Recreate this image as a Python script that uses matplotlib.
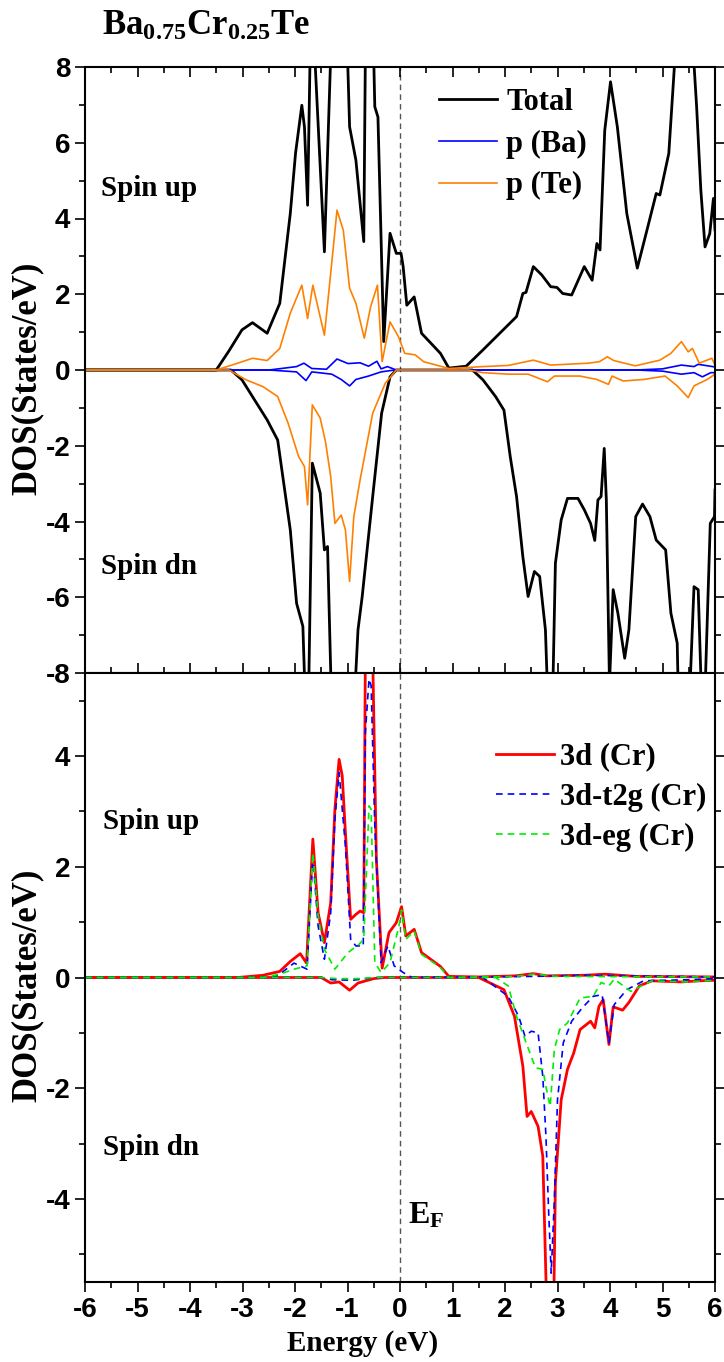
"""
Spin-resolved density of states for Ba0.75Cr0.25Te.

Top panel: total DOS with Ba-p and Te-p partial DOS.
Bottom panel: Cr-3d DOS split into t2g and eg parts.
Positive values are spin up, negative values spin down.
"""

import matplotlib
matplotlib.use('Agg')
import matplotlib.pyplot as plt
from matplotlib.ticker import MultipleLocator

SERIF = 'Liberation Serif'
SANS = 'Liberation Sans'

plt.rcParams['mathtext.fontset'] = 'custom'
plt.rcParams['mathtext.rm'] = SERIF + ':bold'
plt.rcParams['mathtext.it'] = SERIF + ':bold'
plt.rcParams['mathtext.bf'] = SERIF + ':bold'
plt.rcParams['axes.unicode_minus'] = False

# (energy in eV, DOS in states/eV)
TOTAL_UP = [(-6, 0), (-3.5, 0), (-3.26, 0.5), (-3.01, 1.06), (-2.81, 1.25),
            (-2.53, 0.97), (-2.29, 1.76), (-2.09, 4.13), (-1.99, 5.72),
            (-1.87, 6.99), (-1.82, 6.42), (-1.76, 4.35), (-1.71, 8.5),
            (-1.67, 10), (-1.62, 8.2), (-1.44, 3.12), (-1.32, 8.3),
            (-1.2, 10), (-1.0, 8.3), (-0.96, 6.42), (-0.84, 5.54),
            (-0.69, 3.39), (-0.66, 8.3), (-0.58, 10), (-0.50, 8.2),
            (-0.48, 6.95), (-0.42, 6.68), (-0.31, 0.75), (-0.19, 3.61),
            (-0.07, 3.08), (0.02, 3.08), (0.06, 2.73), (0.13, 1.71),
            (0.27, 1.93), (0.41, 0.97), (0.77, 0.44), (0.93, 0.05),
            (1.26, 0.10), (1.58, 0.53), (1.90, 0.97), (2.22, 1.41),
            (2.34, 2.02), (2.40, 2.05), (2.54, 2.73), (2.70, 2.51),
            (2.87, 2.20), (2.99, 2.18), (3.10, 2.02), (3.27, 1.98),
            (3.51, 2.73), (3.66, 2.37), (3.75, 3.34), (3.81, 3.17),
            (3.90, 6.33), (4.01, 7.61), (4.14, 6.42), (4.32, 4.13),
            (4.52, 2.69), (4.72, 3.78), (4.88, 4.66), (4.95, 4.62),
            (5.12, 5.72), (5.24, 8.3), (5.42, 10), (5.59, 8.3),
            (5.65, 6.95), (5.73, 4.75), (5.81, 3.25), (5.90, 3.6),
            (5.97, 4.53), (6.0, 3.7)]

TOTAL_DN = [(-6, 0), (-3.22, 0), (-3.01, -0.26), (-2.77, -0.79),
            (-2.53, -1.32), (-2.33, -1.85), (-2.25, -2.64), (-2.09, -4.22),
            (-1.97, -6.16), (-1.85, -6.77), (-1.81, -8.5), (-1.78, -9),
            (-1.74, -8.5), (-1.67, -2.46), (-1.52, -3.25), (-1.44, -4.75),
            (-1.38, -4.66), (-1.31, -8.5), (-1.1, -10), (-0.86, -8.5),
            (-0.80, -6.86), (-0.72, -5.98), (-0.52, -3.34), (-0.35, -1.14),
            (-0.19, -0.18), (-0.07, 0), (1.38, 0), (1.58, -0.26),
            (1.82, -0.70), (1.98, -1.06), (2.10, -2.29), (2.22, -3.34),
            (2.34, -4.93), (2.44, -5.98), (2.56, -5.32), (2.66, -5.45),
            (2.77, -6.86), (2.81, -8.5), (2.86, -9), (2.91, -8.5),
            (2.96, -5.10), (3.07, -3.96), (3.19, -3.39), (3.39, -3.39),
            (3.51, -3.69), (3.63, -4.05), (3.71, -4.50), (3.77, -3.43),
            (3.83, -3.34), (3.89, -2.07), (3.93, -3.43), (3.99, -8.3),
            (4.06, -5.80), (4.15, -6.42), (4.28, -7.61), (4.36, -6.86),
            (4.49, -3.87), (4.62, -3.54), (4.76, -3.87), (4.88, -4.49),
            (5.06, -4.75), (5.16, -6.42), (5.28, -7.21), (5.30, -8.5),
            (5.4, -9), (5.52, -8.5), (5.60, -5.72), (5.68, -5.80),
            (5.74, -8.5), (5.78, -9), (5.81, -8.5), (5.91, -4.05),
            (5.99, -3.87), (6.0, -3.17)]

BA_P_UP = [(-6, 0), (-2.49, 0), (-1.97, 0.09), (-1.83, 0.18), (-1.68, 0.04),
           (-1.4, 0.02), (-1.20, 0.29), (-0.99, 0.17), (-0.76, 0.19),
           (-0.60, 0.10), (-0.44, 0.23), (-0.36, 0.03), (-0.24, 0.09),
           (-0.07, 0), (4.5, 0), (5.0, 0.03), (5.36, 0.13), (5.60, 0.09),
           (5.68, 0.15), (6.0, 0.08)]

BA_P_DN = [(-6, 0), (-2.49, 0), (-1.97, -0.05), (-1.79, -0.28),
           (-1.68, -0.05), (-1.30, -0.11), (-1.12, -0.25), (-0.96, -0.42),
           (-0.84, -0.25), (-0.60, -0.16), (-0.36, -0.05), (-0.1, 0),
           (4.5, 0), (5.0, -0.03), (5.36, -0.11), (5.60, -0.07),
           (5.76, -0.18), (5.92, -0.07), (6.0, -0.07)]

TE_P_UP = [(-6, 0), (-3.5, 0), (-3.09, 0.18), (-2.81, 0.31), (-2.53, 0.25),
           (-2.29, 0.57), (-2.09, 1.50), (-1.87, 2.24), (-1.76, 1.36),
           (-1.66, 2.24), (-1.44, 0.92), (-1.32, 2.55), (-1.20, 4.22),
           (-1.08, 3.69), (-0.96, 2.16), (-0.84, 1.76), (-0.68, 0.84),
           (-0.56, 1.67), (-0.48, 2.02), (-0.43, 2.24), (-0.34, 0.22),
           (-0.19, 1.27), (-0.03, 0.88), (0.09, 0.44), (0.29, 0.40),
           (0.45, 0.22), (0.93, 0.04), (1.58, 0.09), (2.06, 0.12),
           (2.54, 0.26), (2.87, 0.13), (3.59, 0.18), (3.80, 0.22),
           (3.95, 0.35), (4.07, 0.25), (4.48, 0.11), (4.95, 0.26),
           (5.16, 0.44), (5.36, 0.75), (5.49, 0.48), (5.57, 0.57),
           (5.70, 0.18), (5.94, 0.31), (6.0, 0.13)]

TE_P_DN = [(-6, 0), (-3.26, 0), (-2.93, -0.26), (-2.61, -0.44),
           (-2.33, -0.70), (-2.13, -1.41), (-1.93, -2.29), (-1.82, -2.55),
           (-1.76, -3.56), (-1.67, -0.92), (-1.52, -1.27), (-1.42, -1.89),
           (-1.32, -2.81), (-1.24, -4.05), (-1.12, -3.83), (-1.04, -4.22),
           (-0.96, -5.58), (-0.88, -3.87), (-0.76, -2.90), (-0.52, -1.14),
           (-0.28, -0.35), (-0.07, 0), (1.3, 0), (1.58, -0.07),
           (2.06, -0.11), (2.44, -0.11), (2.81, -0.31), (2.94, -0.16),
           (3.43, -0.16), (3.75, -0.25), (3.97, -0.38), (4.04, -0.16),
           (4.25, -0.29), (4.64, -0.25), (5.05, -0.16), (5.28, -0.42),
           (5.49, -0.73), (5.60, -0.42), (5.85, -0.25), (6.0, -0.11)]

CR_D_UP = [(-6, 0), (-3.09, 0), (-2.61, 0.04), (-2.29, 0.11), (-2.09, 0.29),
           (-1.90, 0.43), (-1.78, 0.26), (-1.66, 2.50), (-1.56, 1.17),
           (-1.44, 0.63), (-1.32, 1.35), (-1.24, 3.04), (-1.16, 3.94),
           (-1.10, 3.64), (-1.04, 2.62), (-0.94, 1.05), (-0.84, 1.14),
           (-0.76, 1.20), (-0.69, 1.17), (-0.66, 5.8), (-0.59, 8),
           (-0.52, 5.8), (-0.45, 2.13), (-0.34, 0.17), (-0.21, 0.81),
           (-0.07, 0.99), (0.03, 1.28), (0.11, 0.75), (0.27, 0.87),
           (0.41, 0.45), (0.77, 0.20), (0.93, 0.02), (1.5, 0.01),
           (2.2, 0.03), (2.54, 0.07), (2.8, 0.03), (3.5, 0.04),
           (3.91, 0.06), (4.5, 0.02), (6.0, 0.01)]

CR_D_DN = [(-6, 0), (-1.5, 0), (-1.32, -0.10), (-1.16, -0.08),
           (-0.96, -0.23), (-0.80, -0.10), (-0.5, -0.02), (-0.3, 0),
           (1.50, 0), (1.98, -0.22), (2.18, -0.70), (2.34, -1.60),
           (2.42, -2.51), (2.50, -2.42), (2.63, -2.69), (2.72, -3.23),
           (2.79, -5.8), (2.86, -7), (2.93, -5.8), (2.96, -3.71),
           (3.07, -2.21), (3.19, -1.66), (3.31, -1.36), (3.43, -0.94),
           (3.63, -0.79), (3.71, -0.91), (3.79, -0.52), (3.87, -0.40),
           (3.98, -1.21), (4.06, -0.53), (4.24, -0.59), (4.36, -0.45),
           (4.56, -0.15), (4.80, -0.06), (5.36, -0.08), (5.7, -0.06),
           (6.0, -0.05)]

T2G_UP = [(-6, 0), (-2.41, 0), (-2.29, 0.06), (-2.02, 0.26), (-1.77, 0.15),
          (-1.66, 2.19), (-1.56, 0.93), (-1.44, 0.33), (-1.32, 1.17),
          (-1.24, 2.86), (-1.16, 3.70), (-1.04, 2.38), (-0.94, 0.69),
          (-0.84, 0.57), (-0.70, 0.57), (-0.66, 4.42), (-0.59, 5.39),
          (-0.55, 5.27), (-0.48, 2.74), (-0.36, 0.27), (-0.23, 0.57),
          (-0.11, 0.21), (0.06, 0.09), (0.23, 0), (2.54, 0.02),
          (3.5, 0.04), (6.0, 0.01)]

T2G_DN = [(-6, 0), (-1.5, 0), (-1.3, -0.04), (-0.9, -0.05), (-0.5, 0),
          (1.58, 0), (2.06, -0.34), (2.26, -0.70), (2.38, -1.06),
          (2.50, -0.97), (2.63, -1.00), (2.72, -1.79), (2.78, -2.87),
          (2.83, -4.20), (2.88, -5.34), (2.94, -4.02), (3.00, -2.21),
          (3.11, -1.18), (3.27, -0.79), (3.47, -0.55), (3.68, -0.34),
          (3.85, -0.31), (3.98, -1.18), (4.08, -0.49), (4.32, -0.22),
          (4.64, -0.06), (5.5, -0.04), (6.0, -0.02)]

EG_UP = [(-6, 0), (-2.6, 0), (-2.29, 0.06), (-2.02, 0.15), (-1.77, 0.21),
         (-1.66, 2.25), (-1.56, 1.11), (-1.44, 0.51), (-1.24, 0.15),
         (-0.99, 0.45), (-0.78, 0.60), (-0.69, 0.69), (-0.59, 3.10),
         (-0.55, 3.04), (-0.48, 0.27), (-0.36, 0.09), (-0.19, 0.27),
         (-0.02, 0.93), (0.03, 1.22), (0.11, 0.69), (0.27, 0.84),
         (0.41, 0.42), (0.77, 0.18), (0.93, 0), (2.2, 0.02), (2.54, 0.06),
         (3.0, 0.02), (6.0, 0.01)]

EG_DN = [(-6, 0), (-1.5, 0), (-1.2, -0.02), (-0.8, -0.02), (-0.5, 0),
         (1.82, 0), (2.06, -0.15), (2.22, -0.70), (2.38, -1.12),
         (2.58, -1.63), (2.72, -1.66), (2.79, -2.02), (2.86, -2.33),
         (2.94, -1.30), (3.04, -0.94), (3.19, -0.82), (3.43, -0.37),
         (3.68, -0.34), (3.83, -0.09), (3.98, -0.15), (4.08, -0.03),
         (4.40, -0.25), (4.6, -0.15), (4.80, -0.06), (5.5, -0.08),
         (6.0, -0.05)]

TOP_YTICKS = [-8, -6, -4, -2, 0, 2, 4, 6, 8]
BOTTOM_YTICKS = [-4, -2, 0, 2, 4]
XTICKS = [-6, -5, -4, -3, -2, -1, 0, 1, 2, 3, 4, 5, 6]

FONT_TXT = dict(family=SERIF, weight='bold', size=21)
LEGEND_FONT = dict(family=SERIF, weight='bold', size=22)


def split(pairs):
    return [p[0] for p in pairs], [p[1] for p in pairs]


def plot_curve(ax, pairs, **kw):
    x, y = split(pairs)
    return ax.plot(x, y, **kw)


def style_axes(ax, yticks):
    ax.set_xlim(-6, 6)
    ax.set_xticks(XTICKS)
    ax.xaxis.set_minor_locator(MultipleLocator(0.5))
    ax.set_yticks(yticks)
    ax.yaxis.set_minor_locator(MultipleLocator(1))
    ax.tick_params(which='both', left=True, right=True, top=True,
                   bottom=True, width=1.2)
    ax.tick_params(axis='y', which='both', direction='out')
    ax.tick_params(which='major', length=7)
    ax.tick_params(which='minor', length=4)
    for lab in ax.get_xticklabels() + ax.get_yticklabels():
        lab.set_fontfamily(SANS)
        lab.set_fontweight('bold')
        lab.set_fontsize(20)
    for sp in ax.spines.values():
        sp.set_linewidth(1.5)
    ax.axvline(0, color='#555555', lw=1.0, dashes=(4, 3), zorder=0)
    ax.set_ylabel('DOS(States/eV)', family=SERIF, weight='bold', size=25)
    ax.yaxis.set_label_coords(-0.066, 0.487)


def plot_total(ax):
    plot_curve(ax, TOTAL_UP, color='black', lw=2.0, label='Total')
    plot_curve(ax, TOTAL_DN, color='black', lw=2.0)
    plot_curve(ax, BA_P_UP, color='#0000ff', lw=1.2, label='p (Ba)')
    plot_curve(ax, BA_P_DN, color='#0000ff', lw=1.2)
    plot_curve(ax, TE_P_UP, color='#ff8000', lw=1.2, label='p (Te)')
    plot_curve(ax, TE_P_DN, color='#ff8000', lw=1.2)
    ax.set_ylim(-8, 8)
    style_axes(ax, TOP_YTICKS)
    ax.tick_params(axis='x', which='both', direction='in', labelbottom=False)
    ax.text(-5.7, 4.8, 'Spin up', va='center', **FONT_TXT)
    ax.text(-5.7, -5.2, 'Spin dn', va='center', **FONT_TXT)
    ax.legend(loc='upper left', bbox_to_anchor=(0.562, 0.966),
              frameon=False, borderpad=0, borderaxespad=0,
              handlelength=1.9, handletextpad=0.3, labelspacing=0.42,
              prop=LEGEND_FONT)


def plot_cr(ax):
    plot_curve(ax, CR_D_UP, color='#ff0000', lw=2.0, label='3d (Cr)')
    plot_curve(ax, CR_D_DN, color='#ff0000', lw=2.0)
    plot_curve(ax, T2G_UP, color='#0000ff', lw=1.2, dashes=(4, 3),
               label='3d-t2g (Cr)')
    plot_curve(ax, T2G_DN, color='#0000ff', lw=1.2, dashes=(4, 3))
    plot_curve(ax, EG_UP, color='#00ee00', lw=1.2, dashes=(4, 3),
               label='3d-eg (Cr)')
    plot_curve(ax, EG_DN, color='#00ee00', lw=1.2, dashes=(4, 3))
    ax.set_ylim(-5.5, 5.5)
    style_axes(ax, BOTTOM_YTICKS)
    ax.tick_params(axis='x', which='both', direction='out')
    ax.tick_params(axis='x', which='both', top=False)
    ax.set_xlabel('Energy (eV)', family=SERIF, weight='bold', size=21)
    ax.xaxis.set_label_coords(0.44, -0.078)
    ax.text(-5.65, 2.82, 'Spin up', va='center', **FONT_TXT)
    ax.text(-5.65, -3.07, 'Spin dn', va='center', **FONT_TXT)
    ax.text(0.15, -4.3, r'$\mathrm{E_F}$', va='center', family=SERIF,
            size=23)
    ax.legend(loc='upper left', bbox_to_anchor=(0.652, 0.886),
              frameon=False, borderpad=0, borderaxespad=0,
              handlelength=1.9, handletextpad=0.2, labelspacing=0.37,
              prop=LEGEND_FONT)


def start():
    fig = plt.figure(figsize=(7.24, 13.62), dpi=100)
    ax_top = fig.add_axes([85 / 724, 1 - 673 / 1362, 630 / 724, 606 / 1362])
    ax_bot = fig.add_axes([85 / 724, 1 - 1282 / 1362, 630 / 724, 609 / 1362])

    plot_total(ax_top)
    plot_cr(ax_bot)

    fig.text(102 / 724, 1 - 35 / 1362, r'$\mathrm{Ba_{0.75}Cr_{0.25}Te}$',
             ha='left', va='baseline', size=25)

    fig.savefig('out.png', dpi=100)


if __name__ == '__main__':
    start()
